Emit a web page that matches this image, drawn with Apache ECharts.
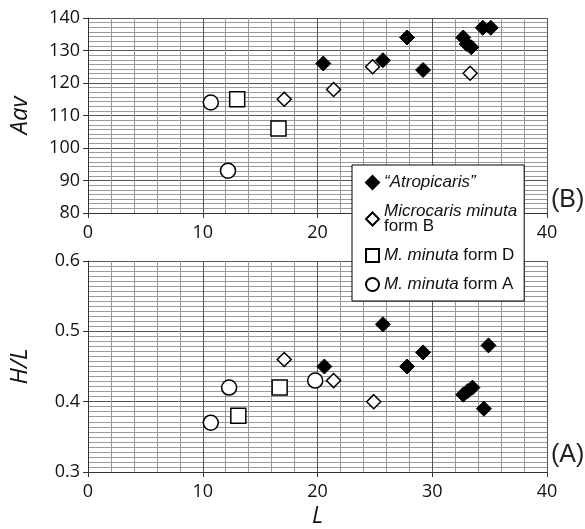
<!DOCTYPE html>
<html>
<head>
<meta charset="utf-8">
<script src="https://cdn.jsdelivr.net/npm/echarts@6/dist/echarts.min.js"></script>
<style>
  html, body { margin: 0; padding: 0; background: #fff; }
  #main { width: 585px; height: 529px; }
</style>
</head>
<body>
<div id="main"></div>
<script>
// panel B: Aav against L
const atroL_B = [20.5, 25.7, 27.8, 29.2, 32.7, 33.0, 33.4, 34.4, 35.1]
const atroAav = [126, 127, 134, 124, 134, 132, 131, 137, 137]
const formBL_B = [17.1, 21.4, 24.8, 33.3]
const formBAav = [115, 118, 125, 123]
const formDL_B = [13.0, 16.6]
const formDAav = [115, 106]
const formAL_B = [10.7, 12.2]
const formAAav = [114, 93]

// panel A: H/L against L
const atroL_A = [20.6, 25.7, 27.8, 29.2, 32.7, 33.1, 33.5, 34.5, 34.9]
const atroHL = [0.45, 0.51, 0.45, 0.47, 0.41, 0.415, 0.42, 0.39, 0.48]
const formBL_A = [17.1, 21.4, 24.9]
const formBHL = [0.46, 0.43, 0.40]
const formDL_A = [13.1, 16.7]
const formDHL = [0.38, 0.42]
const formAL_A = [10.7, 12.3, 19.8]
const formAHL = [0.37, 0.42, 0.43]

const seriesNames = ['“Atropicaris”', 'Microcaris minuta form B', 'M. minuta form D', 'M. minuta form A']

const zip = (xs, ys) => xs.map((x, i) => [x, ys[i]])

const tickFont = { fontFamily: 'Open Sans', fontSize: 18, color: '#111' }
const nameFont = { fontFamily: 'Open Sans', fontStyle: 'italic', fontSize: 24, color: '#111' }

const styles = [
    { symbol: 'diamond', symbolSize: 15, itemStyle: { color: '#000', borderColor: '#000', borderWidth: 1, opacity: 1 } },
    { symbol: 'diamond', symbolSize: 14, itemStyle: { color: '#fff', borderColor: '#000', borderWidth: 1.5, opacity: 1 } },
    { symbol: 'rect', symbolSize: 15, itemStyle: { color: '#fff', borderColor: '#000', borderWidth: 1.5, opacity: 1 } },
    { symbol: 'circle', symbolSize: 15, itemStyle: { color: '#fff', borderColor: '#000', borderWidth: 1.5, opacity: 1 } }
]

const xAxisBase = {
    type: 'value',
    min: 0,
    max: 40,
    interval: 10,
    axisLine: { show: true, lineStyle: { color: '#333', width: 1 } },
    axisTick: { show: true, length: 5, lineStyle: { color: '#333' } },
    axisLabel: Object.assign({ margin: 11 }, tickFont),
    splitLine: { show: true, lineStyle: { color: '#555', width: 1 } },
    minorTick: { show: true, splitNumber: 5, length: 0 },
    minorSplitLine: { show: true, lineStyle: { color: '#999', width: 1 } }
}

const yAxisBase = {
    type: 'value',
    nameLocation: 'middle',
    nameGap: 56,
    nameTextStyle: nameFont,
    axisLine: { show: true, lineStyle: { color: '#333' } },
    axisTick: { show: true, length: 5, lineStyle: { color: '#333' } },
    splitLine: { show: true, lineStyle: { color: '#555' } },
    minorSplitLine: { show: true, lineStyle: { color: '#999' } }
}

const panels = [
    { grid: 0, data: [zip(atroL_B, atroAav), zip(formBL_B, formBAav), zip(formDL_B, formDAav), zip(formAL_B, formAAav)] },
    { grid: 1, data: [zip(atroL_A, atroHL), zip(formBL_A, formBHL), zip(formDL_A, formDHL), zip(formAL_A, formAHL)] }
]

const series = []
panels.forEach(p => {
    p.data.forEach((d, i) => {
        series.push(Object.assign({
            name: seriesNames[i],
            type: 'scatter',
            xAxisIndex: p.grid,
            yAxisIndex: p.grid,
            data: d,
            z: 3
        }, styles[i]))
    })
})

const chart = echarts.init(document.getElementById('main'))

const option = {
    backgroundColor: '#fff',
    animation: false,
    grid: [
        { left: 87, top: 18, width: 460, height: 195 },
        { left: 87, top: 261, width: 460, height: 212 }
    ],
    xAxis: [
        Object.assign({}, xAxisBase, { gridIndex: 0 }),
        Object.assign({}, xAxisBase, {
            gridIndex: 1,
            name: 'L',
            nameLocation: 'middle',
            nameGap: 33,
            nameTextStyle: Object.assign({}, nameFont, { fontSize: 23 })
        })
    ],
    yAxis: [
        Object.assign({}, yAxisBase, {
            gridIndex: 0,
            min: 80,
            max: 140,
            interval: 10,
            name: 'Aav',
            axisLabel: Object.assign({ margin: 8 }, tickFont),
            minorTick: { show: true, splitNumber: 7, length: 0 }
        }),
        Object.assign({}, yAxisBase, {
            gridIndex: 1,
            min: 0.3,
            max: 0.6,
            interval: 0.1,
            name: 'H/L',
            axisLabel: Object.assign({ margin: 8, formatter: v => v.toFixed(1) }, tickFont),
            minorTick: { show: true, splitNumber: 14, length: 0 }
        })
    ],
    legend: {
        orient: 'vertical',
        left: 352,
        top: 165,
        padding: [9, 7, 8, 13],
        itemGap: 12,
        itemWidth: 13,
        itemHeight: 13,
        backgroundColor: '#fff',
        borderColor: '#000',
        borderWidth: 1,
        z: 10,
        data: seriesNames,
        formatter: name => {
            if (name === seriesNames[0]) return '{i|“Atropicaris”}'
            if (name === seriesNames[1]) return '{i|Microcaris minuta}\n{n|form B}'
            if (name === seriesNames[2]) return '{i|M. minuta}{n| form D}'
            return '{i|M. minuta}{n| form A}'
        },
        textStyle: {
            fontFamily: 'Liberation Sans',
            fontSize: 17,
            color: '#111',
            rich: {
                i: { fontFamily: 'Liberation Sans', fontStyle: 'italic', fontSize: 17, lineHeight: 15, color: '#111' },
                n: { fontFamily: 'Liberation Sans', fontSize: 17, lineHeight: 15, color: '#111' }
            }
        }
    },
    graphic: [
        { type: 'text', left: 551, top: 188, style: { text: '(B)', font: '25px "Liberation Sans"', fill: '#222' } },
        { type: 'text', left: 551, top: 443, style: { text: '(A)', font: '25px "Liberation Sans"', fill: '#222' } }
    ],
    series: series
}

chart.setOption(option)
</script>
</body>
</html>
